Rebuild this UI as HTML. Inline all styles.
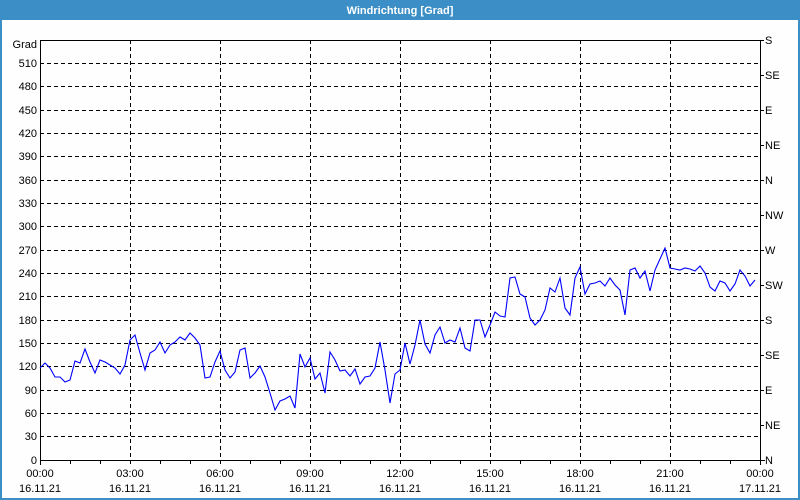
<!DOCTYPE html>
<html><head><meta charset="utf-8"><style>
html,body{margin:0;padding:0;background:#fff;}
svg{display:block;}
text{font-family:"Liberation Sans",sans-serif;font-size:11px;fill:#000;}
</style></head><body>
<svg width="800" height="500" viewBox="0 0 800 500" xmlns="http://www.w3.org/2000/svg">
<rect x="0" y="0" width="800" height="500" fill="#3c8fc6"/>
<rect x="2" y="20" width="796" height="478" fill="#fefefe"/>
<text x="400" y="14" text-anchor="middle" style="font-weight:bold;fill:#fff;font-size:11px">Windrichtung [Grad]</text>
<g stroke="#000" stroke-width="1" stroke-dasharray="4,3" shape-rendering="crispEdges">
<line x1="40" y1="63.5" x2="760" y2="63.5"/>
<line x1="40" y1="86.5" x2="760" y2="86.5"/>
<line x1="40" y1="110.5" x2="760" y2="110.5"/>
<line x1="40" y1="133.5" x2="760" y2="133.5"/>
<line x1="40" y1="156.5" x2="760" y2="156.5"/>
<line x1="40" y1="180.5" x2="760" y2="180.5"/>
<line x1="40" y1="203.5" x2="760" y2="203.5"/>
<line x1="40" y1="226.5" x2="760" y2="226.5"/>
<line x1="40" y1="250.5" x2="760" y2="250.5"/>
<line x1="40" y1="273.5" x2="760" y2="273.5"/>
<line x1="40" y1="296.5" x2="760" y2="296.5"/>
<line x1="40" y1="320.5" x2="760" y2="320.5"/>
<line x1="40" y1="343.5" x2="760" y2="343.5"/>
<line x1="40" y1="366.5" x2="760" y2="366.5"/>
<line x1="40" y1="390.5" x2="760" y2="390.5"/>
<line x1="40" y1="413.5" x2="760" y2="413.5"/>
<line x1="40" y1="436.5" x2="760" y2="436.5"/>
<line x1="130.5" y1="40" x2="130.5" y2="460"/>
<line x1="220.5" y1="40" x2="220.5" y2="460"/>
<line x1="310.5" y1="40" x2="310.5" y2="460"/>
<line x1="400.5" y1="40" x2="400.5" y2="460"/>
<line x1="490.5" y1="40" x2="490.5" y2="460"/>
<line x1="580.5" y1="40" x2="580.5" y2="460"/>
<line x1="670.5" y1="40" x2="670.5" y2="460"/>
</g>
<g stroke="#000" stroke-width="1" shape-rendering="crispEdges">
<line x1="40.5" y1="40" x2="40.5" y2="465"/>
<line x1="40" y1="40.5" x2="761" y2="40.5"/>
<line x1="40" y1="460.5" x2="765" y2="460.5"/>
<line x1="760.5" y1="40" x2="760.5" y2="465"/>
<line x1="70.5" y1="460" x2="70.5" y2="464"/><line x1="100.5" y1="460" x2="100.5" y2="464"/><line x1="130.5" y1="460" x2="130.5" y2="464"/>
<line x1="160.5" y1="460" x2="160.5" y2="464"/><line x1="190.5" y1="460" x2="190.5" y2="464"/><line x1="220.5" y1="460" x2="220.5" y2="464"/>
<line x1="250.5" y1="460" x2="250.5" y2="464"/><line x1="280.5" y1="460" x2="280.5" y2="464"/><line x1="310.5" y1="460" x2="310.5" y2="464"/>
<line x1="340.5" y1="460" x2="340.5" y2="464"/><line x1="370.5" y1="460" x2="370.5" y2="464"/><line x1="400.5" y1="460" x2="400.5" y2="464"/>
<line x1="430.5" y1="460" x2="430.5" y2="464"/><line x1="460.5" y1="460" x2="460.5" y2="464"/><line x1="490.5" y1="460" x2="490.5" y2="464"/>
<line x1="520.5" y1="460" x2="520.5" y2="464"/><line x1="550.5" y1="460" x2="550.5" y2="464"/><line x1="580.5" y1="460" x2="580.5" y2="464"/>
<line x1="610.5" y1="460" x2="610.5" y2="464"/><line x1="640.5" y1="460" x2="640.5" y2="464"/><line x1="670.5" y1="460" x2="670.5" y2="464"/>
<line x1="700.5" y1="460" x2="700.5" y2="464"/><line x1="730.5" y1="460" x2="730.5" y2="464"/>
<line x1="760" y1="40.5" x2="764" y2="40.5"/><line x1="760" y1="75.5" x2="764" y2="75.5"/><line x1="760" y1="110.5" x2="764" y2="110.5"/>
<line x1="760" y1="145.5" x2="764" y2="145.5"/><line x1="760" y1="180.5" x2="764" y2="180.5"/><line x1="760" y1="215.5" x2="764" y2="215.5"/>
<line x1="760" y1="250.5" x2="764" y2="250.5"/><line x1="760" y1="285.5" x2="764" y2="285.5"/><line x1="760" y1="320.5" x2="764" y2="320.5"/>
<line x1="760" y1="355.5" x2="764" y2="355.5"/><line x1="760" y1="390.5" x2="764" y2="390.5"/><line x1="760" y1="425.5" x2="764" y2="425.5"/>
</g>
<g text-anchor="end">
<text x="37" y="48">Grad</text>
<text x="37" y="67">510</text><text x="37" y="90">480</text><text x="37" y="114">450</text>
<text x="37" y="137">420</text><text x="37" y="160">390</text><text x="37" y="184">360</text>
<text x="37" y="207">330</text><text x="37" y="230">300</text><text x="37" y="254">270</text>
<text x="37" y="277">240</text><text x="37" y="300">210</text><text x="37" y="324">180</text>
<text x="37" y="347">150</text><text x="37" y="370">120</text><text x="37" y="394">90</text>
<text x="37" y="417">60</text><text x="37" y="440">30</text><text x="37" y="464">0</text>
</g>
<g>
<text x="765" y="44">S</text><text x="765" y="79">SE</text><text x="765" y="114">E</text>
<text x="765" y="149">NE</text><text x="765" y="184">N</text><text x="765" y="219">NW</text>
<text x="765" y="254">W</text><text x="765" y="289">SW</text><text x="765" y="324">S</text>
<text x="765" y="359">SE</text><text x="765" y="394">E</text><text x="765" y="429">NE</text>
<text x="765" y="464">N</text>
</g>
<g text-anchor="middle">
<text x="40" y="477">00:00</text><text x="40" y="492">16.11.21</text>
<text x="130" y="477">03:00</text><text x="130" y="492">16.11.21</text>
<text x="220" y="477">06:00</text><text x="220" y="492">16.11.21</text>
<text x="310" y="477">09:00</text><text x="310" y="492">16.11.21</text>
<text x="400" y="477">12:00</text><text x="400" y="492">16.11.21</text>
<text x="490" y="477">15:00</text><text x="490" y="492">16.11.21</text>
<text x="580" y="477">18:00</text><text x="580" y="492">16.11.21</text>
<text x="670" y="477">21:00</text><text x="670" y="492">16.11.21</text>
<text x="760" y="477">00:00</text><text x="760" y="492">17.11.21</text>
</g>
<polyline fill="none" stroke="#0000ff" stroke-width="1.1" points="40,368 45,363 50,368 55,377 60,377 65,382 70,380 75,361 80,363 85,349 90,362 95,373 100,360 105,362 110,365 115,368 120,374 125,365 130,340 135,335 140,353 145,370 150,353 155,350 160,342 165,353 170,345 175,342 180,337 185,340 190,333 195,338 200,345 205,378 210,377 215,362 220,351 225,370 230,378 235,372 240,350 245,348 250,378 255,373 260,366 265,377 270,393 275,410 280,401 285,399 290,396 295,408 300,354 305,367 310,358 315,379 320,373 325,393 330,352 335,360 340,371 345,370 350,376 355,369 360,384 365,377 370,376 375,368 380,342 385,370 390,403 395,374 400,370 405,343 410,364 415,345 420,320 425,344 430,353 435,335 440,327 445,343 450,340 455,342 460,328 465,348 470,351 475,320 480,320 485,337 490,325 495,312 500,316 505,317 510,278 515,277 520,294 525,297 530,318 535,325 540,320 545,310 550,288 555,292 560,278 565,308 570,315 575,278 580,267 585,294 590,284 595,283 600,281 605,286 610,278 615,285 620,290 625,315 630,270 635,268 640,278 645,271 650,291 655,270 660,259 665,248 670,268 675,269 680,270 685,268 690,269 695,271 700,266 705,273 710,287 715,291 720,281 725,283 730,291 735,284 740,270 745,276 750,286 755,280"/>
</svg>
</body></html>
